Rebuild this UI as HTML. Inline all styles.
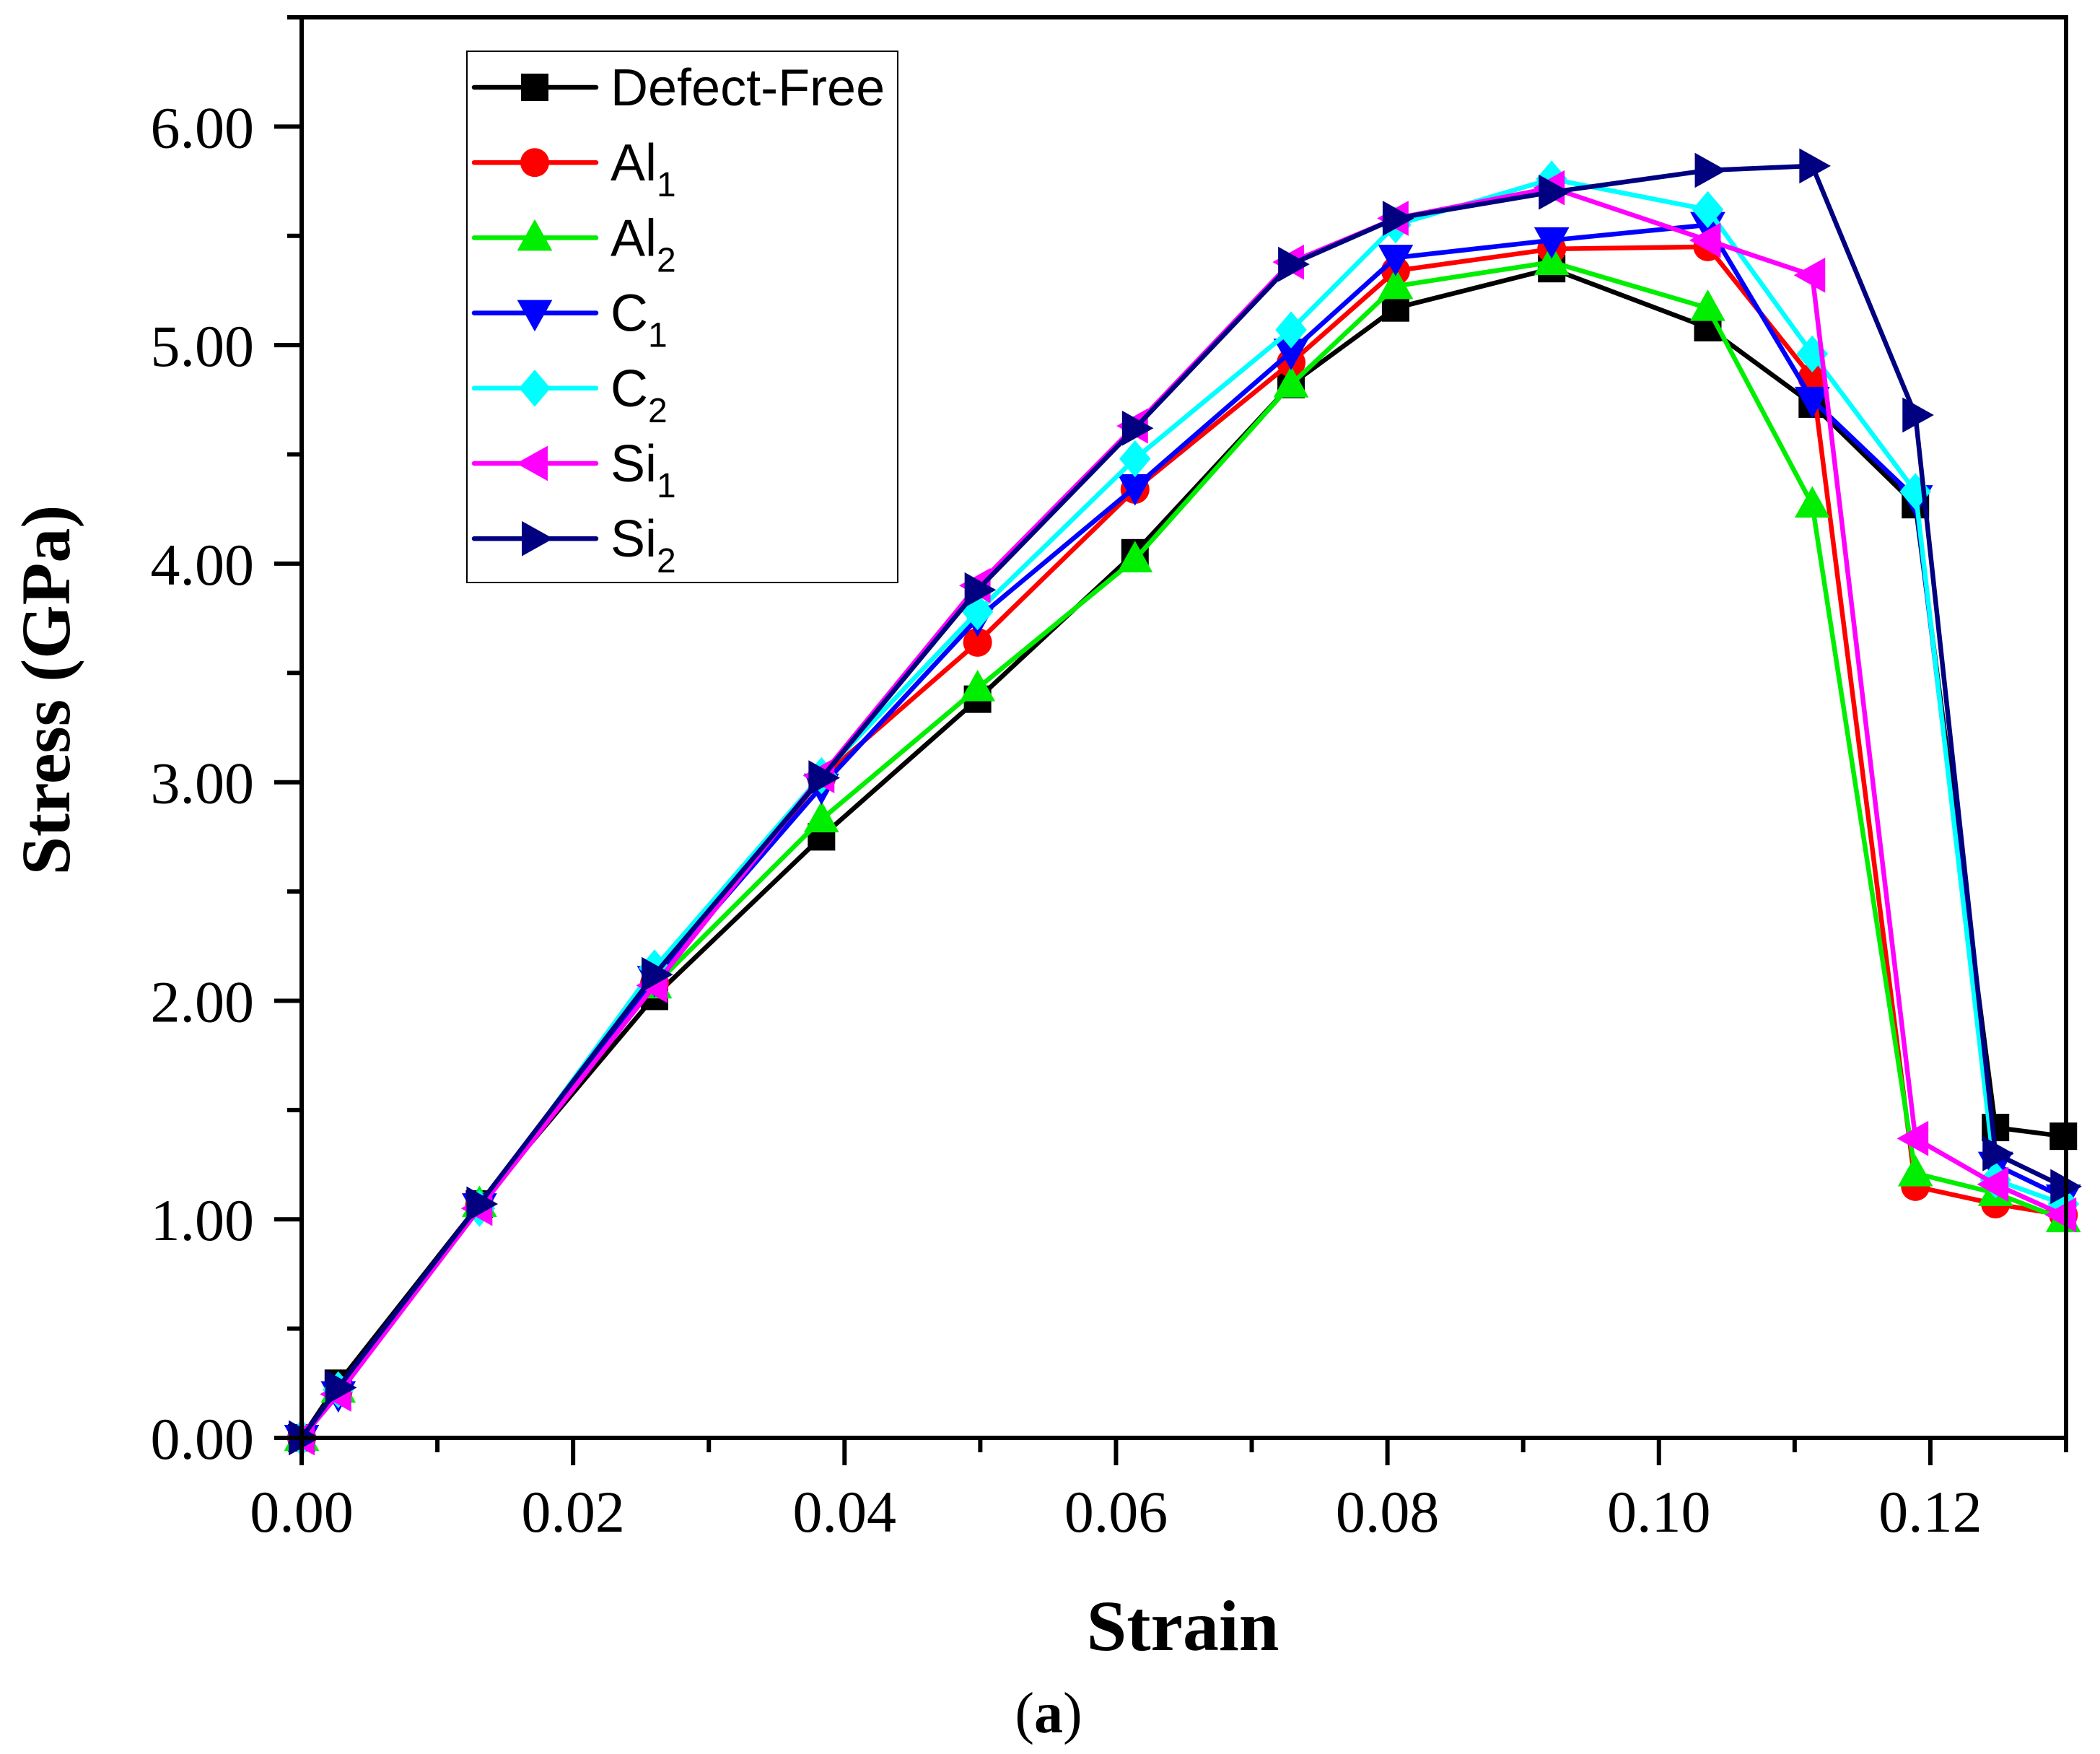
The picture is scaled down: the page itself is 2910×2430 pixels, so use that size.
<!DOCTYPE html>
<html><head><meta charset="utf-8"><style>
html,body{margin:0;padding:0;background:#fff;}
svg{display:block;}
</style></head><body>
<svg id="chart" xmlns="http://www.w3.org/2000/svg" width="2910" height="2430" viewBox="0 0 2910 2430">
<rect width="2910" height="2430" fill="#fff"/>
<g id="plot"></g>
<g id="axes"></g>
<g id="legend"></g>
<text x="0" y="0" transform="translate(96,956) rotate(-90)" text-anchor="middle" font-family="Liberation Serif, serif" font-weight="bold" font-size="96">Stress (GPa)</text>
<text x="1639" y="2286" text-anchor="middle" font-family="Liberation Serif, serif" font-weight="bold" font-size="100">Strain</text>
<text x="1453" y="2400" text-anchor="middle" font-family="Liberation Serif, serif" font-size="80">(<tspan font-weight="bold">a</tspan>)</text>
</svg>
<script>
const strain = [0, 0.0027, 0.0131, 0.026, 0.0383, 0.0498, 0.0614, 0.0729, 0.0806, 0.0921, 0.1036, 0.1113, 0.1189, 0.1248, 0.1298];
const seriesNames = ['Defect-Free','Al1','Al2','C1','C2','Si1','Si2'];
const defectFree = [0,0.25,1.07,2.02,2.75,3.38,4.05,4.82,5.17,5.35,5.08,4.73,4.27,1.42,1.38];
const al1 = [0,0.22,1.06,2.08,3.02,3.64,4.34,4.92,5.34,5.44,5.45,4.85,1.15,1.07,1.02];
const al2 = [0,0.22,1.07,2.07,2.83,3.43,4.02,4.82,5.27,5.38,5.17,4.27,1.21,1.12,1.00];
const c1 = [0,0.20,1.06,2.10,2.98,3.75,4.35,4.97,5.40,5.48,5.55,4.75,4.30,1.25,1.10];
const c2 = [0,0.22,1.05,2.15,3.03,3.78,4.48,5.07,5.55,5.76,5.62,4.96,4.33,1.18,1.07];
const si1 = [0,0.20,1.05,2.07,3.03,3.90,4.63,5.38,5.58,5.72,5.48,5.32,1.37,1.16,1.02];
const si2 = [0,0.23,1.07,2.12,3.02,3.88,4.62,5.37,5.58,5.70,5.80,5.82,4.68,1.30,1.15];
const xTicks = [0,0.02,0.04,0.06,0.08,0.10,0.12];
const xTickLabels = ['0.00','0.02','0.04','0.06','0.08','0.10','0.12'];
const yTicks = [0,1,2,3,4,5,6];
const yTickLabels = ['0.00','1.00','2.00','3.00','4.00','5.00','6.00'];

const NS='http://www.w3.org/2000/svg';
const X0=418, X1=2863, Y0=1992, Y1=24;
const xMax=0.13, yMax=6.5;
function sx(v){return X0+(v/xMax)*(X1-X0);}
function sy(v){return Y0-(v/yMax)*(Y0-Y1);}
function mk(tag,attrs,parent){const e=document.createElementNS(NS,tag);for(const k in attrs)e.setAttribute(k,attrs[k]);parent.appendChild(e);return e;}

const styles=[
 {color:'#000000',shape:'square'},
 {color:'#ff0000',shape:'circle'},
 {color:'#00ee00',shape:'up'},
 {color:'#0000ff',shape:'down'},
 {color:'#00ffff',shape:'diamond'},
 {color:'#ff00ff',shape:'left'},
 {color:'#000080',shape:'right'}
];
const allSeries=[defectFree,al1,al2,c1,c2,si1,si2];

function marker(parent,shape,cx,cy,color,name){
  const s=19; let e;
  if(shape==='square') e=mk('rect',{x:cx-s,y:cy-s,width:2*s,height:2*s,fill:color},parent);
  else if(shape==='circle') e=mk('circle',{cx:cx,cy:cy,r:s+1,fill:color},parent);
  else {
    let p; const r=s*1.35;
    if(shape==='up') p=[[cx,cy-r],[cx+r*0.95,cy+r*0.7],[cx-r*0.95,cy+r*0.7]];
    else if(shape==='down') p=[[cx,cy+r],[cx+r*0.95,cy-r*0.7],[cx-r*0.95,cy-r*0.7]];
    else if(shape==='left') p=[[cx-r,cy],[cx+r*0.7,cy-r*0.95],[cx+r*0.7,cy+r*0.95]];
    else if(shape==='right') p=[[cx+r,cy],[cx-r*0.7,cy-r*0.95],[cx-r*0.7,cy+r*0.95]];
    else p=[[cx,cy-r],[cx+r*0.85,cy],[cx,cy+r],[cx-r*0.85,cy]];
    e=mk('polygon',{points:p.map(q=>q.join(',')).join(' '),fill:color},parent);
  }
  
  
  return e;
}

const plot=document.getElementById('plot');
allSeries.forEach((vals,i)=>{
  const g=mk('g',{},plot);
  
  
  const pts=vals.map((v,j)=>sx(strain[j])+','+sy(v)).join(' ');
  const pl=mk('polyline',{points:pts,fill:'none',stroke:styles[i].color,'stroke-width':6.5,'stroke-linejoin':'round'},g);
  
  
  vals.forEach((v,j)=>{marker(g,styles[i].shape,sx(strain[j]),sy(v),styles[i].color,'point-'+seriesNames[i].toLowerCase());});
});

const axes=document.getElementById('axes');
const frame=mk('rect',{x:X0,y:Y1,width:X1-X0,height:Y0-Y1,fill:'none',stroke:'#000','stroke-width':6},axes);


const font='Liberation Serif, serif';
xTicks.forEach((t,i)=>{
  const x=sx(t);
  const l=mk('line',{x1:x,y1:Y0,x2:x,y2:Y0+38,stroke:'#000','stroke-width':6},axes);
  
  
  const m=mk('line',{x1:sx(t+0.01),y1:Y0,x2:sx(t+0.01),y2:Y0+20,stroke:'#000','stroke-width':6},axes);
  
  
  const tx=mk('text',{x:x,y:2122,'text-anchor':'middle','font-family':font,'font-size':82},axes);
  tx.textContent=xTickLabels[i];
  
  
});
yTicks.forEach((t,i)=>{
  const y=sy(t);
  const l=mk('line',{x1:X0-38,y1:y,x2:X0,y2:y,stroke:'#000','stroke-width':6},axes);
  
  
  const m=mk('line',{x1:X0-20,y1:sy(t+0.5),x2:X0,y2:sy(t+0.5),stroke:'#000','stroke-width':6},axes);
  
  
  const tx=mk('text',{x:352,y:y+29,'text-anchor':'end','font-family':font,'font-size':82},axes);
  tx.textContent=yTickLabels[i];
  
  
});

const leg=document.getElementById('legend');
const box=mk('rect',{x:647,y:71,width:597,height:736,fill:'#fff',stroke:'#000','stroke-width':2},leg);


const labels=[['Defect-Free',''],['Al','1'],['Al','2'],['C','1'],['C','2'],['Si','1'],['Si','2']];
labels.forEach((lb,i)=>{
  const y=121+i*104.2;
  const g=mk('g',{},leg);
  
  
  mk('line',{x1:657,y1:y,x2:826,y2:y,stroke:styles[i].color,'stroke-width':6.5,'stroke-linecap':'round'},g);
  marker(g,styles[i].shape,741,y,styles[i].color,'legend-marker');
  const t=mk('text',{x:846,y:y+25,'font-family':'Liberation Sans, sans-serif','font-size':72},g);
  t.textContent=lb[0];
  if(lb[1]){const s=mk('tspan',{'font-size':48,dy:22},t);s.textContent=lb[1];}
});
</script>
</body></html>
